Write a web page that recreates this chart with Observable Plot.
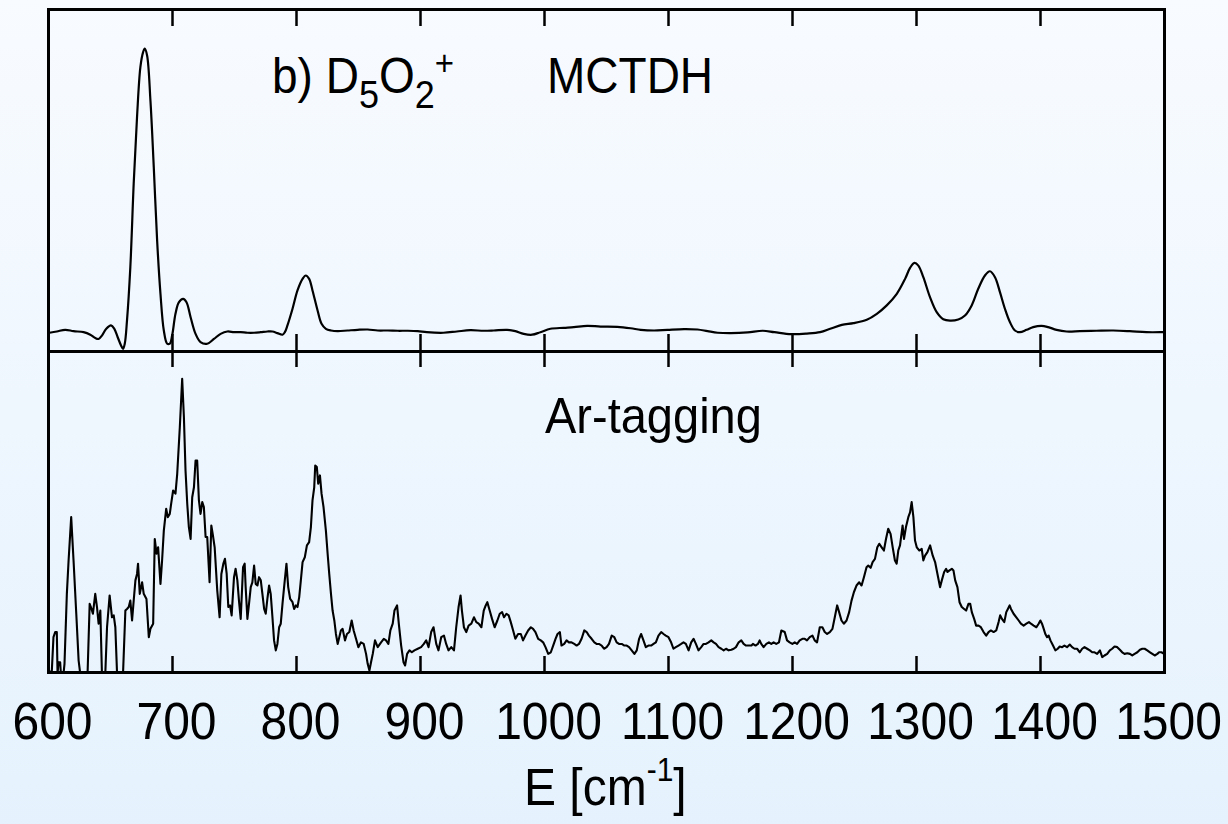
<!DOCTYPE html>
<html><head><meta charset="utf-8">
<script src="https://cdn.jsdelivr.net/npm/d3@7"></script>
<script src="https://cdn.jsdelivr.net/npm/@observablehq/plot@0.6"></script>
<style>
html,body{margin:0;padding:0;}
body{width:1228px;height:824px;overflow:hidden;background:linear-gradient(to bottom,#f8fbff,#e5f2fd);font-family:"Liberation Sans",Arial,sans-serif;}
#wrap{position:relative;width:1228px;height:824px;}
#wrap svg{display:block;}
.lbl{position:absolute;line-height:1;color:#000;white-space:nowrap;font-family:"Liberation Sans",Arial,sans-serif;transform:scaleY(1.08);transform-origin:0 85%;}
.sub{font-size:36px;position:relative;top:14px;}
.sup{font-size:33px;position:relative;top:-17px;}
.sup2{font-size:30px;position:relative;top:-22px;}
</style></head>
<body><div id="wrap"></div>
<script>
// x-axis ticks (cm^-1)
const xTicks = [600, 700, 800, 900, 1000, 1100, 1200, 1300, 1400, 1500];

// MCTDH spectrum (upper panel), arbitrary intensity
const mctdhE = [600.8,606.7,613.5,620.2,628.3,633.7,637.7,640.4,643.1,646.6,650.4,653.1,655.8,658.5,660.1,661.5,663.3,666.0,668.7,671.4,674.1,676.3,677.6,679.5,682.2,684.9,687.6,690.3,693.0,695.7,697.8,699.7,702.4,705.1,708.6,711.3,714.6,718.6,722.6,728.0,733.4,738.8,744.2,749.6,755.0,760.4,765.8,771.2,776.5,780.6,784.6,788.7,790.6,792.7,796.8,800.8,804.9,807.5,810.2,812.9,817.0,820.2,823.7,827.8,833.2,841.2,849.3,857.4,865.5,873.6,881.7,889.8,897.8,905.1,918.5,929.3,940.1,950.9,959.0,969.8,976.5,983.2,990.0,996.7,1004.8,1015.6,1023.7,1034.4,1045.2,1058.7,1069.5,1077.6,1088.4,1099.1,1112.6,1123.4,1131.5,1139.6,1150.3,1163.8,1176.0,1185.4,1198.9,1211.6,1222.3,1230.4,1239.8,1249.2,1259.9,1268.0,1276.0,1284.1,1290.8,1294.8,1298.3,1301.5,1305.5,1310.9,1316.3,1321.6,1327.0,1333.7,1339.1,1344.5,1349.8,1355.2,1359.2,1363.3,1367.3,1371.3,1375.3,1379.4,1383.4,1388.8,1394.1,1400.8,1406.2,1412.9,1421.0,1431.7,1445.1,1458.6,1472.0,1485.4,1498.8,1500];
const mctdhI = [-0.8,-0.35,0.24,-0.24,-0.6,-1.5,-2.7,-3.0,-1.8,0.6,1.8,0.6,-2.4,-5.3,-6.5,-4.7,3.5,22.5,52.0,75.7,93.4,98.7,99.9,97.5,81.6,57.9,31.9,13.0,0,-4.7,-4.7,-1.8,5.9,10.0,11.2,10.0,4.7,-1.2,-4.1,-4.7,-3.0,-1.2,-0.35,-0.6,-0.6,-0.8,-0.8,-0.6,-0.35,-0.35,-0.95,-1.5,-0.6,1.8,7.7,14.2,18.3,19.5,18.3,14.2,7.1,2.4,0.6,0,-0.24,0,0.24,0.35,0,0,-0.1,-0.1,-0.24,-0.6,-0.8,-0.35,0.1,-0.1,0,0.24,-0.24,-1.2,-1.5,-0.6,0.6,0.95,1.2,1.65,1.4,1.3,0.8,0.24,0,0.24,0.5,0.35,-0.24,-0.8,-0.95,-0.7,-0.1,-0.6,-1.3,-1.1,-0.6,0.6,2.0,2.6,3.8,5.9,8.9,13.0,18.3,22.2,24.0,23.0,18.9,11.8,6.5,4.0,3.5,3.9,5.3,8.9,14.8,19.5,21.0,18.9,13.6,7.7,3.0,0,-0.6,0.24,1.2,1.65,1.2,0.24,-0.35,-0.24,-0.1,0,-0.24,-0.6,-0.6,-0.6];

// Ar-tagging spectrum (lower panel), arbitrary intensity
const arE = [600.0,602.7,604.0,605.4,606.7,607.3,608.1,609.4,610.0,612.1,612.9,614.8,616.2,618.3,620.2,622.4,624.3,625.6,628.0,631.5,633.2,634.2,635.8,637.7,639.1,640.4,641.8,643.1,644.5,645.8,647.2,649.3,651.2,652.6,653.9,655.3,657.7,660.1,662.0,663.3,664.7,666.0,667.4,668.7,670.1,671.4,672.2,673.6,675.5,676.8,679.0,680.9,682.2,684.4,685.7,687.1,688.4,690.3,691.6,693.0,694.9,696.2,697.8,698.9,700.5,702.4,703.8,705.9,707.8,709.2,710.5,711.9,713.2,714.6,715.9,717.3,718.6,719.9,721.3,722.6,724.0,725.3,726.7,728.0,729.9,731.3,732.6,734.0,736.1,738.0,739.4,741.0,742.3,743.7,745.0,746.4,747.7,749.6,750.9,752.3,753.6,755.0,756.9,758.2,759.0,760.4,761.7,763.1,764.4,765.8,767.1,768.5,769.8,771.2,772.5,773.9,775.2,776.5,777.9,779.2,780.6,781.9,783.3,784.6,786.0,787.3,788.7,790.0,791.9,793.3,794.9,796.8,798.1,799.5,800.8,802.2,803.5,804.9,806.7,808.4,810.2,811.6,812.9,814.3,815.1,816.4,817.5,818.9,820.2,821.8,823.7,825.1,826.4,827.8,829.1,830.5,831.8,833.2,834.5,835.8,837.2,839.1,840.7,842.6,844.5,846.1,848.0,849.9,852.0,854.2,856.1,857.4,858.8,860.1,861.5,863.3,865.5,868.2,870.4,872.2,874.1,875.7,877.6,879.0,881.1,882.5,884.4,886.3,887.6,889.2,891.1,893.0,895.1,897.8,900.5,902.7,904.6,906.5,908.6,910.5,912.7,914.5,916.7,918.9,920.7,922.6,924.8,927.0,928.8,930.7,932.3,933.4,935.0,936.9,938.8,941.0,943.1,945.0,946.9,949.1,951.0,952.6,953.9,955.8,957.7,959.8,962.0,963.9,965.8,967.4,969.3,971.1,972.8,974.7,976.5,978.7,980.9,982.7,984.6,986.8,989.0,990.8,992.7,994.9,997.0,998.9,1000.8,1003.0,1005.1,1007.0,1008.9,1010.5,1012.4,1013.7,1015.9,1017.8,1019.7,1021.8,1024.0,1025.9,1027.8,1029.9,1032.1,1034.0,1035.8,1038.0,1040.2,1042.0,1043.9,1046.1,1048.0,1050.1,1052.0,1054.2,1056.3,1058.2,1060.1,1062.3,1064.4,1066.3,1068.2,1070.3,1072.5,1074.4,1076.3,1077.9,1079.8,1081.7,1083.8,1086.0,1087.9,1089.8,1091.9,1094.1,1096.0,1097.8,1100.0,1102.1,1104.0,1105.9,1108.1,1110.2,1112.1,1114.0,1116.2,1118.3,1120.2,1122.1,1124.2,1126.4,1128.3,1130.2,1132.3,1134.5,1136.4,1138.3,1140.4,1142.6,1144.5,1146.4,1148.5,1150.7,1152.6,1154.4,1156.6,1158.7,1160.6,1162.5,1164.7,1166.9,1168.1,1170.2,1172.1,1173.5,1174.8,1176.7,1178.9,1181.0,1182.9,1184.8,1186.9,1189.1,1191.0,1193.7,1195.6,1197.7,1199.9,1201.8,1203.7,1205.8,1208.0,1209.9,1211.7,1213.9,1216.1,1217.9,1219.8,1222.0,1224.1,1226.0,1227.9,1230.1,1232.2,1234.1,1236.0,1237.6,1239.5,1241.4,1243.6,1245.7,1247.6,1249.5,1251.6,1253.8,1255.7,1257.6,1259.7,1261.1,1263.0,1264.6,1266.5,1268.4,1270.0,1271.9,1273.7,1275.4,1277.2,1279.1,1280.8,1282.6,1284.0,1285.3,1286.7,1288.8,1289.9,1291.5,1293.4,1294.8,1296.1,1297.5,1298.8,1300.2,1302.3,1304.2,1305.5,1306.9,1308.8,1311.0,1313.1,1315.0,1316.9,1319.0,1320.4,1322.3,1323.9,1325.0,1326.6,1328.5,1329.8,1331.2,1333.0,1334.7,1336.5,1338.4,1340.0,1341.9,1343.3,1344.6,1346.5,1348.1,1350.0,1351.9,1354.1,1356.2,1358.1,1360.0,1362.2,1364.3,1366.2,1367.5,1368.9,1370.8,1372.4,1373.7,1375.1,1376.2,1378.3,1380.5,1382.4,1384.2,1386.4,1388.6,1390.7,1392.3,1394.5,1396.7,1398.5,1399.9,1401.2,1402.6,1403.9,1405.3,1406.6,1408.0,1410.1,1412.0,1413.9,1415.5,1417.4,1419.3,1421.4,1423.6,1425.5,1427.4,1429.5,1431.7,1433.6,1435.5,1437.6,1439.8,1441.7,1443.6,1445.7,1447.9,1449.8,1451.6,1453.8,1455.9,1457.8,1459.7,1461.9,1464.0,1465.9,1467.8,1470.0,1472.1,1474.0,1475.9,1478.1,1480.2,1482.1,1484.0,1486.1,1488.3,1490.2,1492.1,1494.2,1495.6,1497.5,1499.7];
const arI = [-0.4,0.6,11.0,12.6,12.6,-0.4,3.2,3.2,-0.4,-0.4,2.7,24.5,34.9,48.4,34.9,18.3,3.7,-0.4,-5,-0.4,21.4,20.4,18.3,24.5,20.4,15.2,19.3,-0.4,-5,-0.4,14.1,24.0,17.2,17.8,14.1,-0.4,-5,-0.4,19.3,19.8,20.4,22.4,16.2,22.4,28.7,30.7,33.9,24.5,28.1,24.5,22.9,11.0,13.6,15.2,41.6,37.0,39.0,27.6,34.9,44.2,51.0,48.4,49.4,52.5,56.7,55.7,61.9,76.4,91.5,79.5,62.9,52.5,45.3,41.6,54.6,57.7,66.0,66.0,53.6,49.4,53.1,51.5,42.2,42.2,28.1,45.8,42.7,39.0,25.5,17.2,30.7,33.9,35.4,30.7,20.4,20.9,17.8,29.7,32.3,28.7,22.4,16.7,32.8,33.9,26.6,16.7,21.4,26.6,28.1,33.3,27.6,27.1,29.7,28.7,24.5,19.8,18.3,22.9,27.1,24.5,17.2,10.0,6.9,8.9,14.1,15.2,21.4,26.6,33.9,26.6,22.9,21.9,19.8,20.9,20.4,23.5,28.7,34.4,35.9,39.6,40.6,45.3,53.6,57.7,64.5,64.0,58.8,61.4,55.7,51.5,44.2,37.0,30.7,24.5,19.3,16.2,12.0,8.9,11.0,13.1,13.6,10.0,12.0,12.6,16.2,13.1,10.5,7.9,9.4,8.9,5.8,2.7,0.6,3.2,5.8,10.0,7.9,9.4,10.5,10.0,8.9,13.1,15.2,19.3,20.9,15.2,8.4,3.2,2.2,5.8,6.9,6.3,6.9,7.4,7.9,8.9,10.0,7.9,12.6,14.1,8.9,6.9,11.0,11.5,8.9,6.9,7.9,6.9,14.1,20.4,24.0,19.3,14.1,12.6,14.6,15.2,17.2,15.7,15.2,14.1,19.3,20.9,21.9,19.3,16.7,14.1,16.2,18.3,18.8,17.2,18.3,17.8,15.7,13.1,10.5,12.0,12.0,10.0,11.5,13.1,14.1,13.6,12.6,10.5,10.0,9.4,7.9,5.8,6.3,8.4,10.5,12.0,12.6,8.4,8.9,10.0,9.4,9.4,8.9,8.4,8.9,10.5,13.1,12.6,11.5,10.5,9.4,8.9,8.9,8.4,7.4,7.9,8.9,11.5,11.0,9.4,8.9,8.9,8.4,8.4,7.9,6.9,5.8,6.9,10.5,12.0,10.0,7.9,8.4,8.4,8.9,9.4,11.5,12.6,12.0,11.5,11.0,9.4,7.4,7.9,8.4,8.9,9.4,8.9,6.9,9.4,10.5,8.9,6.9,7.9,8.9,8.9,9.4,10.0,9.4,8.9,7.9,7.4,6.9,7.4,6.9,7.1,7.4,7.9,9.4,10.0,8.9,8.4,8.4,8.4,8.9,8.4,8.9,10.0,8.9,7.9,8.9,9.4,8.9,9.4,8.9,9.4,13.1,12.6,10.0,9.4,8.9,9.4,8.9,10.0,10.5,10.5,10.0,11.0,11.5,10.0,9.4,14.1,14.1,12.6,12.0,12.6,13.6,17.2,20.9,18.8,16.2,15.2,16.2,18.8,22.4,25.0,27.1,28.1,27.1,29.7,32.8,33.3,32.6,34.4,35.4,39.0,40.1,39.0,38.0,41.6,44.8,43.2,39.0,34.9,33.9,38.0,39.6,45.8,41.6,45.3,48.4,49.9,53.1,48.4,41.1,39.0,38.0,38.5,34.9,36.4,37.5,39.6,36.4,34.4,30.7,26.6,28.7,31.3,32.3,31.3,31.8,32.3,31.8,28.7,26.6,21.9,20.4,19.8,19.3,21.4,21.4,18.8,16.7,14.6,14.6,14.1,12.6,11.5,12.6,13.1,12.6,13.1,15.7,17.8,16.7,15.7,18.8,19.8,20.9,19.8,18.3,17.2,16.2,15.2,14.6,15.2,15.7,15.2,14.6,14.1,15.2,16.2,15.2,13.6,12.0,11.0,11.5,10.0,8.4,6.9,7.4,8.1,7.9,8.4,7.9,8.7,7.9,7.4,7.4,6.3,7.4,7.9,7.4,6.9,6.3,6.3,5.8,6.9,4.8,5.3,5.8,6.9,7.4,8.1,7.9,7.1,6.3,5.8,6.0,5.8,5.3,5.8,6.3,7.1,7.4,7.4,6.9,6.3,5.8,5.3,5.8,6.3,6.3,5.8];

const mctdh = mctdhE.map((E, i) => ({E, I: mctdhI[i]}));
const ar = arE.map((E, i) => ({E, I: arI[i]}));

const W = 1228, mL = 48, mR = 64;
const topH = 351, topInner = 342;
const botInner = 321, botH = 473;
const font = "Liberation Sans, Arial, sans-serif";
const baseStyle = {background: "transparent", overflow: "visible", fontFamily: font, color: "#000"};

const topChart = Plot.plot({
  width: W, height: topH, marginTop: 9, marginBottom: 0, marginLeft: mL, marginRight: mR,
  x: {domain: [600, 1500], axis: null},
  y: {domain: [-7.45, 113.8], axis: null},
  style: baseStyle,
  marks: [
    Plot.ruleX(xTicks, {stroke: "#000", strokeWidth: 2.5, insetBottom: topInner - 17}),
    Plot.ruleX(xTicks, {stroke: "#000", strokeWidth: 2.5, insetTop: topInner - 17}),
    Plot.line(mctdh, {x: "E", y: "I", curve: "catmull-rom", stroke: "#000", strokeWidth: 2.2}),
    Plot.frame({stroke: "#000", strokeWidth: 3})
  ]
});

const botChart = Plot.plot({
  width: W, height: botH, marginTop: 0, marginBottom: 152, marginLeft: mL, marginRight: mR,
  x: {domain: [600, 1500], label: null},
  y: {domain: [0, 100], axis: null},
  style: baseStyle,
  marks: [
    Plot.ruleX(xTicks, {stroke: "#000", strokeWidth: 2.5, insetBottom: botInner - 16}),
    Plot.ruleX(xTicks, {stroke: "#000", strokeWidth: 2.5, insetTop: botInner - 16}),
    Plot.line(ar, {x: "E", y: "I", stroke: "#000", strokeWidth: 2.1, clip: true}),
    Plot.axisX(xTicks, {anchor: "bottom", tickSize: 0, tickPadding: 30, fontSize: 48, tickFormat: "d", label: null, dx: 4}),
    Plot.frame({stroke: "#000", strokeWidth: 3})
  ]
});

// slightly taller glyphs, as in the reference typesetting
botChart.querySelectorAll('g[aria-label="x-axis tick label"] text').forEach(t => {
  const tr = t.getAttribute("transform") || "";
  t.setAttribute("transform", tr + " scale(1,1.08)");
});

const wrap = document.getElementById("wrap");
wrap.appendChild(topChart);
wrap.appendChild(botChart);

function addLabel(html, left, baseline, fs) {
  const d = document.createElement("div");
  d.className = "lbl";
  d.style.fontSize = fs + "px";
  d.style.left = left + "px";
  d.style.top = (baseline - 0.8465 * fs) + "px";
  d.innerHTML = html;
  wrap.appendChild(d);
}
addLabel('b) D<span class="sub">5</span>O<span class="sub">2</span><span class="sup">+</span>', 272, 93, 46);
addLabel('MCTDH', 547, 93, 46);
addLabel('Ar-tagging', 545, 433, 47);
addLabel('E [cm<span class="sup2">-1</span>]', 524, 806, 48);
</script>
</body></html>
